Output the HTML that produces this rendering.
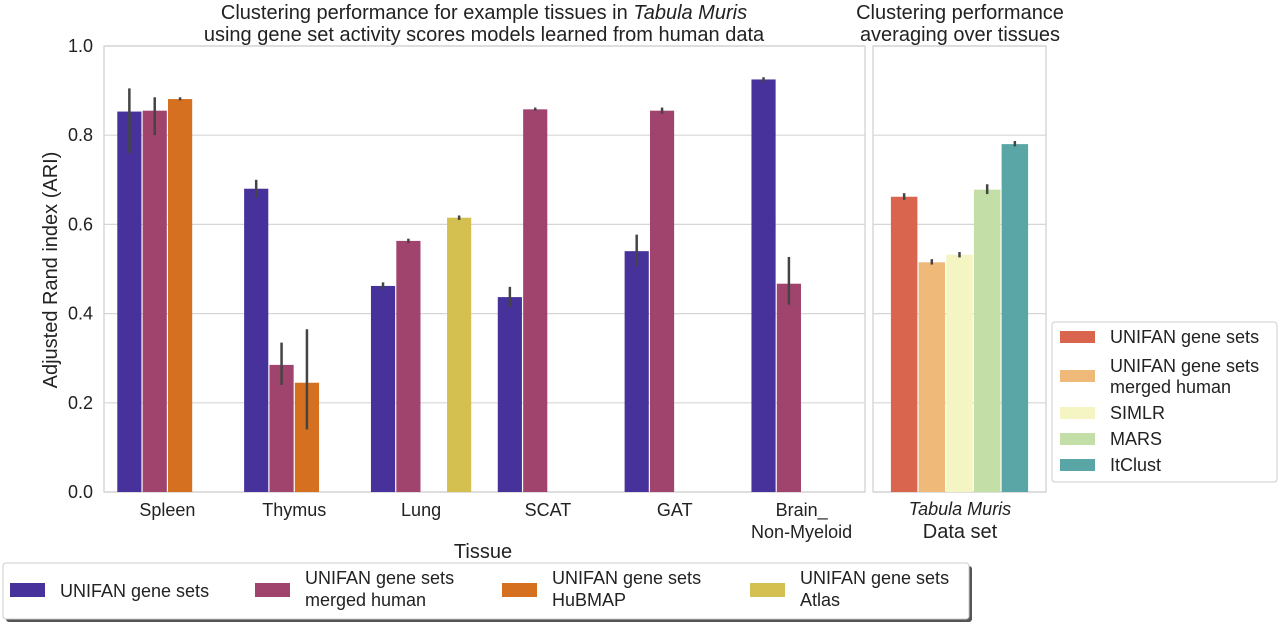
<!DOCTYPE html>
<html><head><meta charset="utf-8">
<style>
html,body{margin:0;padding:0;background:#fff;}
svg{display:block;font-family:"Liberation Sans","DejaVu Sans",sans-serif;}
</style></head>
<body>
<svg id="chart" width="1280" height="625" viewBox="0 0 1280 625">
<g id="static">
<text x="484" y="19" font-size="20" text-anchor="middle" fill="#222">Clustering performance for example tissues in <tspan font-style="italic">Tabula Muris</tspan></text>
<text x="484" y="41" font-size="20" text-anchor="middle" fill="#222">using gene set activity scores models learned from human data</text>
<text x="960" y="19" font-size="20" text-anchor="middle" fill="#222">Clustering performance</text>
<text x="960" y="41" font-size="20" text-anchor="middle" fill="#222">averaging over tissues</text>
<text transform="translate(57,270) rotate(-90)" font-size="20" text-anchor="middle" fill="#222">Adjusted Rand index (ARI)</text>
<text x="483" y="558" font-size="20" text-anchor="middle" fill="#222">Tissue</text>
<text x="960" y="515" font-size="18" font-style="italic" text-anchor="middle" fill="#222">Tabula Muris</text>
<text x="960" y="538" font-size="20" text-anchor="middle" fill="#222">Data set</text>
</g>
<g id="left"></g>
<g id="right"></g>
<g id="legends"></g>
</svg>
<script>
const NS="http://www.w3.org/2000/svg";
const categories=["Spleen","Thymus","Lung","SCAT","GAT","Brain_\nNon-Myeloid"];
const seriesNames=["UNIFAN gene sets","UNIFAN gene sets\nmerged human","UNIFAN gene sets\nHuBMAP","UNIFAN gene sets\nAtlas"];
const seriesColors=["#46329a","#a0446e","#d4701f","#d4c050"];
const valsUnifan=[0.853,0.680,0.462,0.437,0.540,0.925];
const errUnifan=[[0.76,0.905],[0.66,0.70],[0.455,0.47],[0.415,0.46],[0.505,0.577],[0.92,0.93]];
const valsMerged=[0.855,0.285,0.563,0.858,0.855,0.467];
const errMerged=[[0.80,0.885],[0.24,0.335],[0.558,0.568],[0.855,0.862],[0.848,0.862],[0.42,0.527]];
const valsHubmap=[0.881,0.245,null,null,null,null];
const errHubmap=[[0.878,0.885],[0.14,0.365],null,null,null,null];
const valsAtlas=[null,null,0.615,null,null,null];
const errAtlas=[null,null,[0.61,0.62],null,null,null];
const yTicks=[0,0.2,0.4,0.6,0.8,1.0];
const yTickLabels=["0.0","0.2","0.4","0.6","0.8","1.0"];
const methods=["UNIFAN gene sets","UNIFAN gene sets\nmerged human","SIMLR","MARS","ItClust"];
const methodColors=["#d9654f","#efb97a","#f5f5c3","#c3dea6","#5aa5a5"];
const methodVals=[0.662,0.515,0.532,0.678,0.780];
const methodErr=[[0.655,0.67],[0.51,0.522],[0.526,0.538],[0.668,0.69],[0.775,0.787]];

const Y0=492,Y1=46;
const y=v=>Y0-(Y0-Y1)*v;
const LX0=104,LX1=865,RX0=873,RX1=1046;
const band=(LX1-LX0)/categories.length;
const xc=i=>LX0+band*(i+0.5);
function mk(tag,attrs,parent){const e=document.createElementNS(NS,tag);for(const k in attrs)e.setAttribute(k,attrs[k]);parent.appendChild(e);return e;}
function multiText(parent,x,y0,str,size,anchor,lh){const t=mk('text',{x:x,y:y0,'font-size':size,'text-anchor':anchor,fill:'#222'},parent);str.split('\n').forEach((s,i)=>{const ts=mk('tspan',{x:x,dy:i?lh:0},t);ts.textContent=s;});return t;}
const L=document.getElementById('left'),R=document.getElementById('right'),G=document.getElementById('legends');
[[LX0,LX1,L,'left'],[RX0,RX1,R,'right']].forEach(([a,b,g,n])=>{
  yTicks.forEach((t,i)=>{const l=mk('line',{x1:a,x2:b,y1:y(t),y2:y(t),stroke:'#d6d6d6','stroke-width':1.2},g);
  
  });
  const r=mk('rect',{x:a,y:Y1,width:b-a,height:Y0-Y1,fill:'none',stroke:'#cfcfcf','stroke-width':1.2},g);
  
  
});
yTicks.forEach((t,i)=>{const tx=mk('text',{x:LX0-11,y:y(t)+6,'font-size':18,'text-anchor':'end',fill:'#222'},L);tx.textContent=yTickLabels[i];

});
categories.forEach((c,i)=>{const t=multiText(L,xc(i),516,c,18,'middle',22);

});
const allV=[valsUnifan,valsMerged,valsHubmap,valsAtlas],allE=[errUnifan,errMerged,errHubmap,errAtlas];
const slot=band*0.8/4;
categories.forEach((c,i)=>{for(let s=0;s<4;s++){const v=allV[s][i];if(v==null)continue;
  const x=xc(i)-band*0.4+slot*s;
  const b=mk('rect',{x:x+0.6,y:y(v),width:slot-1.2,height:y(0)-y(v),fill:seriesColors[s]},L);
  
  
  const e=allE[s][i];if(e){const l=mk('line',{x1:x+slot/2,x2:x+slot/2,y1:y(e[0]),y2:y(e[1]),stroke:'#444','stroke-width':2.5},L);
  
  }
}});
const rslot=(RX1-RX0)*0.8/methods.length, rx0=RX0+(RX1-RX0)*0.1;
methods.forEach((m,i)=>{const x=rx0+rslot*i;
  const b=mk('rect',{x:x+0.6,y:y(methodVals[i]),width:rslot-1.2,height:y(0)-y(methodVals[i]),fill:methodColors[i]},R);
  
  
  const l=mk('line',{x1:x+rslot/2,x2:x+rslot/2,y1:y(methodErr[i][0]),y2:y(methodErr[i][1]),stroke:'#444','stroke-width':2.5},R);
  
  
});
mk('rect',{x:6,y:566,width:966,height:56,fill:'#555',rx:3},G);
const lb=mk('rect',{x:3,y:563,width:966,height:56,fill:'#fff',stroke:'#ccc',rx:3},G);


const legX=[10,255,502,750];
seriesNames.forEach((n,i)=>{const sw=mk('rect',{x:legX[i],y:583,width:35,height:14,fill:seriesColors[i]},G);
  
  
  const lines=n.split('\n');const t=multiText(G,legX[i]+50,lines.length>1?584:597,n,18,'start',22);
  
  });
const rb=mk('rect',{x:1052,y:322,width:225,height:160,fill:'#fff',stroke:'#ccc',rx:3},G);


const ry=[337,376,413,439,465];
methods.forEach((m,i)=>{const sw=mk('rect',{x:1060,y:ry[i]-6,width:35,height:12,fill:methodColors[i]},G);
  
  
  const lines=m.split('\n');const t=multiText(G,1110,lines.length>1?ry[i]-4:ry[i]+6,m,18,'start',21);
  
  });
</script>
</body></html>
